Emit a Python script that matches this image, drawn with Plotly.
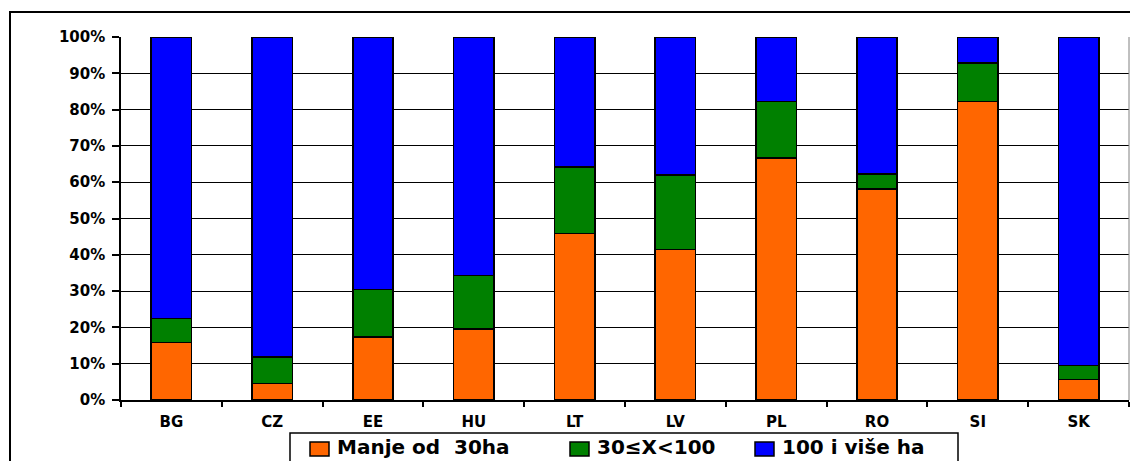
import plotly.graph_objects as go

# Udio poljoprivrednih gospodarstava po veličini (%)
zemlje = ["BG", "CZ", "EE", "HU", "LT", "LV", "PL", "RO", "SI", "SK"]
manje_od_30 = [15.8, 4.6, 17.4, 19.6, 45.9, 41.5, 66.6, 58.1, 82.3, 5.6]
od_30_do_100 = [6.7, 7.2, 13.0, 14.7, 18.3, 20.5, 15.7, 4.1, 10.6, 3.9]
sto_i_vise = [77.5, 88.2, 69.6, 65.7, 35.8, 38.0, 17.7, 37.8, 7.1, 90.5]
y_tick_vals = [0, 10, 20, 30, 40, 50, 60, 70, 80, 90, 100]
y_tick_text = ["0%", "10%", "20%", "30%", "40%", "50%", "60%", "70%", "80%", "90%", "100%"]

nazivi = ["Manje od\u00a0\u00a030ha", "30≤X<100", "100 i više ha"]
boje = ["#FF6600", "#008000", "#0000FF"]
serije = [manje_od_30, od_30_do_100, sto_i_vise]

W, H = 1130, 461
L, R, T, B = 121, 1, 37, 61
plot_w = W - L - R
plot_h = H - T - B


def px_x(p):
    """Vodoravni položaj u pikselima -> koordinata 'paper'."""
    return (p - L) / plot_w


def px_y(p):
    """Okomiti položaj u pikselima (od vrha) -> koordinata 'paper'."""
    return (H - B - p) / plot_h


fig = go.Figure()
for ime, vrijednosti, boja in zip(nazivi, serije, boje):
    fig.add_trace(go.Bar(
        x=zemlje, y=vrijednosti, name=ime, width=0.4,
        marker=dict(color=boja, line=dict(color="black", width=1.5)),
        showlegend=False,
    ))

shapes = [
    # okvir grafikona
    dict(type="rect", xref="paper", yref="paper",
         x0=px_x(10), x1=px_x(1150), y0=px_y(12), y1=px_y(490),
         line=dict(color="black", width=2), fillcolor="rgba(0,0,0,0)",
         layer="below"),
    # desni rub područja crtanja
    dict(type="line", xref="paper", yref="paper",
         x0=1, x1=1, y0=0, y1=1,
         line=dict(color="#808080", width=1)),
    # okvir legende
    dict(type="rect", xref="paper", yref="paper",
         x0=px_x(290), x1=px_x(958), y0=px_y(433), y1=px_y(480),
         line=dict(color="black", width=1.5), fillcolor="white"),
]
annotations = []

# legenda: oznaka boje + tekst
legenda_kvadrat_x = [310, 570, 755]
legenda_tekst_x = [335, 595, 780]
for ime, boja, kx, tx in zip(nazivi, boje, legenda_kvadrat_x, legenda_tekst_x):
    shapes.append(dict(
        type="rect", xref="paper", yref="paper",
        x0=px_x(kx), x1=px_x(kx + 19), y0=px_y(442), y1=px_y(456),
        line=dict(color="black", width=1.5), fillcolor=boja,
    ))
    annotations.append(dict(
        xref="paper", yref="paper", x=px_x(tx), y=px_y(447),
        xanchor="left", yanchor="middle", showarrow=False, text=ime,
        font=dict(family="DejaVu Sans", size=20, weight="bold", color="black"),
    ))

fig.update_layout(
    width=W, height=H,
    margin=dict(l=L, r=R, t=T, b=B, pad=0, autoexpand=False),
    barmode="stack",
    plot_bgcolor="white", paper_bgcolor="white",
    font=dict(family="DejaVu Sans", color="black"),
    showlegend=False,
    xaxis=dict(
        range=[-0.5, 9.5],
        showline=True, linecolor="black", linewidth=1.5,
        ticks="outside", tickson="boundaries", ticklen=5,
        tickcolor="black", tickwidth=1.5,
        tickfont=dict(family="DejaVu Sans", size=15, weight="bold"),
        ticklabelstandoff=7,
        showgrid=False,
    ),
    yaxis=dict(
        range=[0, 100],
        tickmode="array", tickvals=y_tick_vals, ticktext=y_tick_text,
        showline=True, linecolor="black", linewidth=1.5,
        ticks="outside", ticklen=7, tickcolor="black", tickwidth=1.5,
        showgrid=True, gridcolor="black", gridwidth=1,
        tickfont=dict(family="DejaVu Sans", size=15, weight="bold"),
        ticklabelstandoff=4,
        zeroline=False,
    ),
    shapes=shapes,
    annotations=annotations,
)

fig.write_html("out.html")
